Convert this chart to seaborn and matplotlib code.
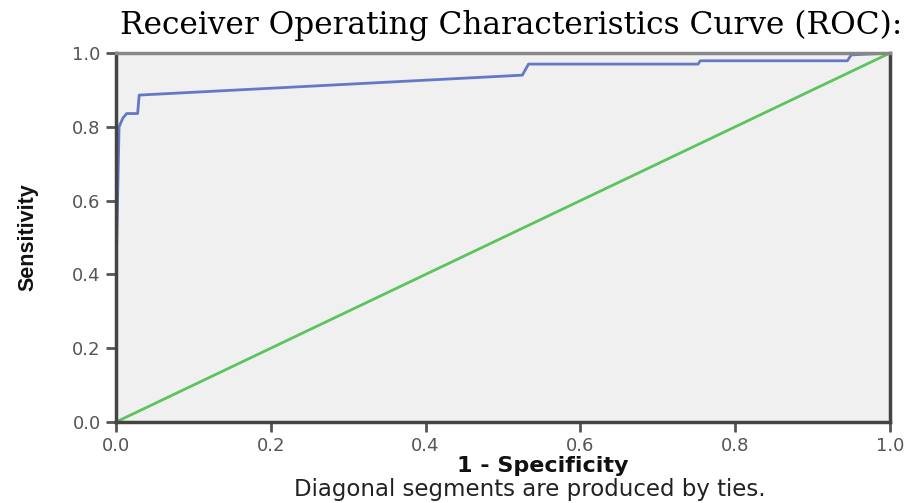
import numpy as np
import pandas as pd
import seaborn as sns
import matplotlib.pyplot as plt

# ROC points
fpr = [0.0, 0.0, 0.004, 0.009, 0.014, 0.028, 0.030, 0.525, 0.533, 0.752, 0.755, 0.945, 0.950, 1.0]
tpr = [0.0, 0.783, 0.80, 0.824, 0.836, 0.836, 0.886, 0.940, 0.970, 0.970, 0.979, 0.979, 0.995, 1.0]
ref_x = [0.0, 1.0]
ref_y = [0.0, 1.0]
ticks = [0.0, 0.2, 0.4, 0.6, 0.8, 1.0]
tick_labels = ['0.0', '0.2', '0.4', '0.6', '0.8', '1.0']

roc = pd.DataFrame({'fpr': fpr, 'tpr': tpr})
ref = pd.DataFrame({'x': ref_x, 'y': ref_y})

sns.set_style('white')
plt.rcParams['font.family'] = ['DejaVu Sans']

fig = plt.figure(figsize=(9.16, 5.03), dpi=100)
ax = fig.add_axes([0.1266, 0.161, 0.845, 0.7336])
ax.set_facecolor('#f0f0f0')

sns.lineplot(data=ref, x='x', y='y', ax=ax, color='#5cc45c', linewidth=2, sort=False)
sns.lineplot(data=roc, x='fpr', y='tpr', ax=ax, color='#6479c6', linewidth=2, sort=False)

ax.set_xlim(0, 1)
ax.set_ylim(0, 1)
ax.set_xticks(ticks)
ax.set_xticklabels(tick_labels)
ax.set_yticks(ticks)
ax.set_yticklabels(tick_labels)
ax.tick_params(axis='both', direction='out', length=7, width=2, color='#555555',
               labelsize=13, labelcolor='#555555', pad=4,
               bottom=True, left=True)

for side in ['left', 'bottom', 'right']:
    ax.spines[side].set_color('#444444')
    ax.spines[side].set_linewidth(2.5)
ax.spines['top'].set_color('#888888')
ax.spines['top'].set_linewidth(2.5)

ax.set_xlabel('')
ax.set_ylabel('Sensitivity', fontsize=15.5, fontweight='bold', labelpad=24,
              family='Liberation Sans', color='#111111')
fig.text(0.558, 0.95, 'Receiver Operating Characteristics Curve (ROC):',
         ha='center', va='center', fontsize=22.5, family='DejaVu Serif', color='black')
fig.text(0.593, 0.073, '1 - Specificity', ha='center', va='center',
         fontsize=16, fontweight='bold', color='#111111')
fig.text(0.578, 0.026, 'Diagonal segments are produced by ties.',
         ha='center', va='center', fontsize=16.5, color='#222222')

fig.savefig('out.png', dpi=100)
